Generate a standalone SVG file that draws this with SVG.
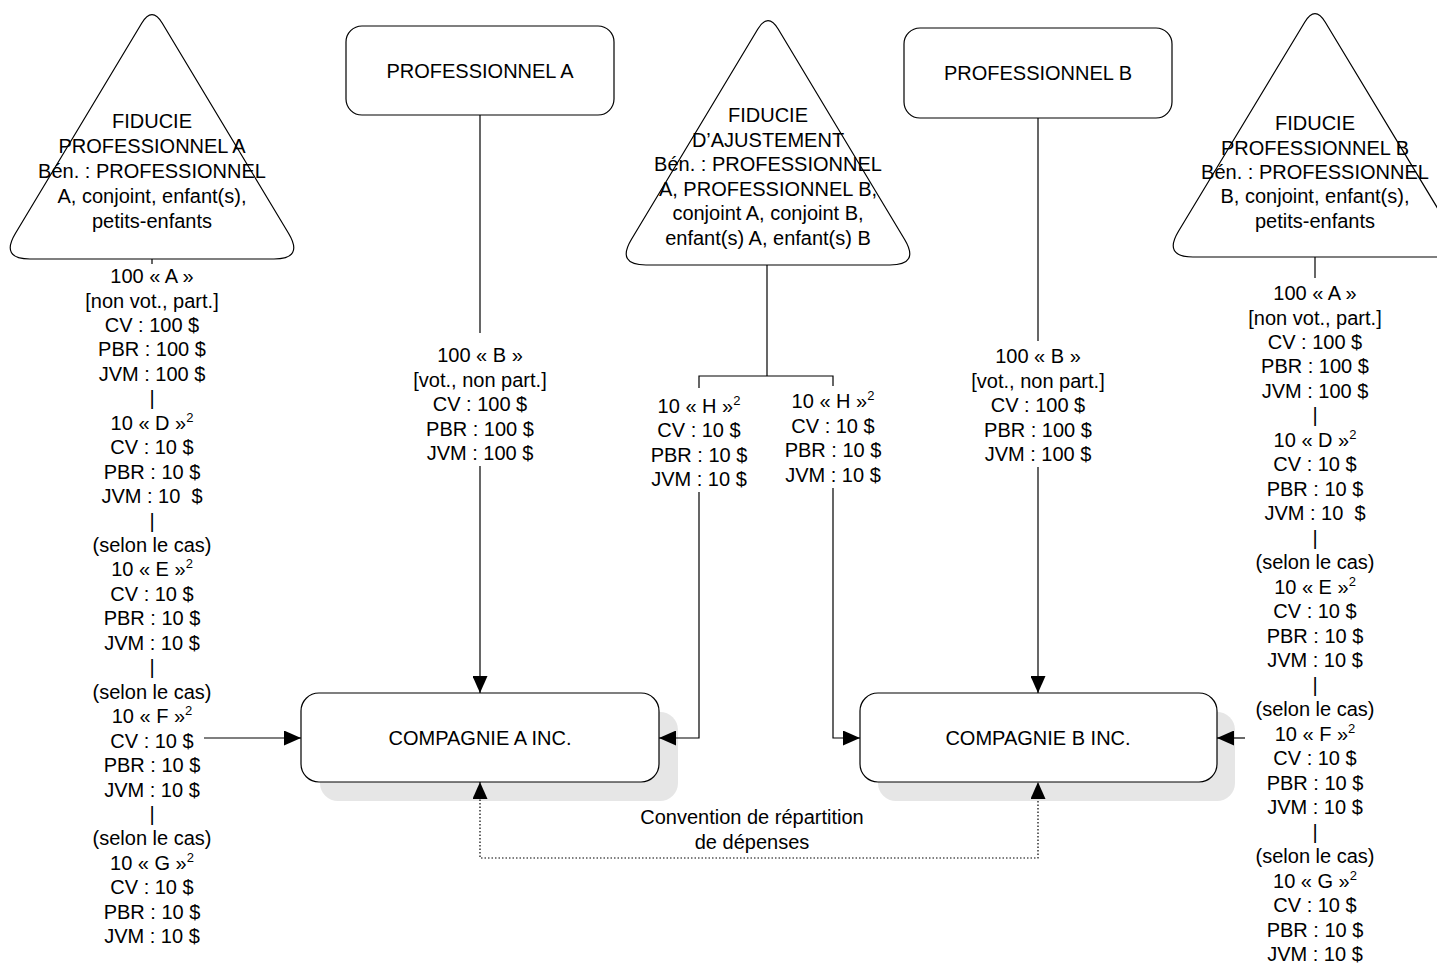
<svg xmlns="http://www.w3.org/2000/svg" width="1437" height="964" viewBox="0 0 1437 964">
<style>
.t{font-family:"Liberation Sans",Arial,sans-serif;font-size:20px;fill:#000;text-anchor:middle}
.box{fill:#fff;stroke:#000;stroke-width:1.2}
.tri{fill:#fff;stroke:#000;stroke-width:1.2}
.sh{fill:#e6e6e6;stroke:none}
.ln{fill:none;stroke:#000;stroke-width:1.2}
.dot{fill:none;stroke:#000;stroke-width:1.2;stroke-dasharray:1.5 2}
</style>
<defs>
<marker id="arr" markerUnits="userSpaceOnUse" markerWidth="17" markerHeight="15" refX="17" refY="7.5" orient="auto-start-reverse" viewBox="0 0 17 15">
<path d="M0,0 L17,7.5 L0,15 z" fill="#000"/>
</marker>
</defs>
<rect width="1437" height="964" fill="#fff"/>

<g id="fiducie-a">
<path class="tri" d="M141.7,23.2 Q152,6 162.3,23.2 L288.5,233.3 Q304,259 274,259 L30,259 Q0,259 15.5,233.3 Z"/>
<text class="t"><tspan x="152" y="128">FIDUCIE</tspan><tspan x="152" y="153">PROFESSIONNEL A</tspan><tspan x="152" y="178">Bén. : PROFESSIONNEL</tspan><tspan x="152" y="203">A, conjoint, enfant(s),</tspan><tspan x="152" y="228">petits-enfants</tspan></text>
</g>

<g id="fiducie-ajustement">
<path class="tri" d="M757.7,29.2 Q768,12 778.3,29.2 L904.5,239.3 Q920,265 890,265 L646,265 Q616,265 631.5,239.3 Z"/>
<text class="t"><tspan x="768" y="122">FIDUCIE</tspan><tspan x="768" y="147">D’AJUSTEMENT</tspan><tspan x="768" y="171">Bén. : PROFESSIONNEL</tspan><tspan x="768" y="196">A, PROFESSIONNEL B,</tspan><tspan x="768" y="220">conjoint A, conjoint B,</tspan><tspan x="768" y="245">enfant(s) A, enfant(s) B</tspan></text>
</g>

<g id="fiducie-b">
<path class="tri" d="M1304.7,22.2 Q1315,5 1325.3,22.2 L1451.5,231.3 Q1467,257 1437,257 L1193,257 Q1163,257 1178.5,231.3 Z"/>
<text class="t"><tspan x="1315" y="130">FIDUCIE</tspan><tspan x="1315" y="155">PROFESSIONNEL B</tspan><tspan x="1315" y="179">Bén. : PROFESSIONNEL</tspan><tspan x="1315" y="203">B, conjoint, enfant(s),</tspan><tspan x="1315" y="228">petits-enfants</tspan></text>
</g>

<g id="professionnel-a">
<rect class="box" x="346" y="26" width="268" height="89" rx="16"/>
<text class="t" x="480" y="78">PROFESSIONNEL A</text>
</g>

<g id="professionnel-b">
<rect class="box" x="904" y="28" width="268" height="90" rx="16"/>
<text class="t" x="1038" y="80">PROFESSIONNEL B</text>
</g>

<g id="compagnie-a">
<rect class="sh" x="320" y="712" width="358" height="89" rx="18"/>
<rect class="box" x="301" y="693" width="358" height="89" rx="18"/>
<text class="t" x="480" y="745">COMPAGNIE A INC.</text>
</g>

<g id="compagnie-b">
<rect class="sh" x="878" y="712" width="357" height="89" rx="18"/>
<rect class="box" x="860" y="693" width="357" height="89" rx="18"/>
<text class="t" x="1038" y="745">COMPAGNIE B INC.</text>
</g>

<g id="connectors">
<line class="ln" x1="480" y1="115" x2="480" y2="333"/>
<line class="ln" x1="480" y1="466" x2="480" y2="693" marker-end="url(#arr)"/>
<line class="ln" x1="1038" y1="118" x2="1038" y2="341"/>
<line class="ln" x1="1038" y1="467" x2="1038" y2="693" marker-end="url(#arr)"/>
<polyline class="ln" points="767,265 767,376"/>
<polyline class="ln" points="699,388 699,376 833,376 833,386"/>
<polyline class="ln" points="699,492 699,738 659,738" marker-end="url(#arr)"/>
<polyline class="ln" points="833,488 833,738 860,738" marker-end="url(#arr)"/>
<line class="ln" x1="152" y1="259" x2="152" y2="264"/>
<line class="ln" x1="204" y1="738" x2="301" y2="738" marker-end="url(#arr)"/>
<line class="ln" x1="1315" y1="257" x2="1315" y2="278"/>
<line class="ln" x1="1245" y1="738" x2="1217" y2="738" marker-end="url(#arr)"/>
<path class="dot" d="M480,782 V858 H1038 V782" marker-start="url(#arr)" marker-end="url(#arr)"/>
</g>

<g id="labels">
<text class="t"><tspan x="480" y="362">100 « B »</tspan><tspan x="480" y="386.5">[vot., non part.]</tspan><tspan x="480" y="411">CV : 100 $</tspan><tspan x="480" y="435.5">PBR : 100 $</tspan><tspan x="480" y="460">JVM : 100 $</tspan></text>
<text class="t"><tspan x="1038" y="363">100 « B »</tspan><tspan x="1038" y="388">[vot., non part.]</tspan><tspan x="1038" y="412">CV : 100 $</tspan><tspan x="1038" y="437">PBR : 100 $</tspan><tspan x="1038" y="461">JVM : 100 $</tspan></text>
<text class="t"><tspan x="699" y="413">10 « H »<tspan font-size="13" dy="-8">2</tspan></tspan><tspan x="699" y="437">CV : 10 $</tspan><tspan x="699" y="462">PBR : 10 $</tspan><tspan x="699" y="486">JVM : 10 $</tspan></text>
<text class="t"><tspan x="833" y="408">10 « H »<tspan font-size="13" dy="-8">2</tspan></tspan><tspan x="833" y="433">CV : 10 $</tspan><tspan x="833" y="457">PBR : 10 $</tspan><tspan x="833" y="482">JVM : 10 $</tspan></text>
<text class="t"><tspan x="752" y="824">Convention de répartition</tspan><tspan x="752" y="849">de dépenses</tspan></text>

<text class="t" xml:space="preserve"><tspan x="152" y="283">100 « A »</tspan><tspan x="152" y="307.5">[non vot., part.]</tspan><tspan x="152" y="331.9">CV : 100 $</tspan><tspan x="152" y="356.4">PBR : 100 $</tspan><tspan x="152" y="380.8">JVM : 100 $</tspan><tspan x="152" y="405.3">|</tspan><tspan x="152" y="429.7">10 « D »<tspan font-size="13" dy="-8">2</tspan></tspan><tspan x="152" y="454.2">CV : 10 $</tspan><tspan x="152" y="478.6">PBR : 10 $</tspan><tspan x="152" y="503.1">JVM : 10  $</tspan><tspan x="152" y="527.5">|</tspan><tspan x="152" y="552">(selon le cas)</tspan><tspan x="152" y="576.4">10 « E »<tspan font-size="13" dy="-8">2</tspan></tspan><tspan x="152" y="600.9">CV : 10 $</tspan><tspan x="152" y="625.3">PBR : 10 $</tspan><tspan x="152" y="649.8">JVM : 10 $</tspan><tspan x="152" y="674.2">|</tspan><tspan x="152" y="698.7">(selon le cas)</tspan><tspan x="152" y="723.1">10 « F »<tspan font-size="13" dy="-8">2</tspan></tspan><tspan x="152" y="747.6">CV : 10 $</tspan><tspan x="152" y="772">PBR : 10 $</tspan><tspan x="152" y="796.5">JVM : 10 $</tspan><tspan x="152" y="820.9">|</tspan><tspan x="152" y="845.4">(selon le cas)</tspan><tspan x="152" y="869.8">10 « G »<tspan font-size="13" dy="-8">2</tspan></tspan><tspan x="152" y="894.3">CV : 10 $</tspan><tspan x="152" y="918.7">PBR : 10 $</tspan><tspan x="152" y="943.2">JVM : 10 $</tspan></text>

<text class="t" xml:space="preserve"><tspan x="1315" y="300">100 « A »</tspan><tspan x="1315" y="324.5">[non vot., part.]</tspan><tspan x="1315" y="349">CV : 100 $</tspan><tspan x="1315" y="373.4">PBR : 100 $</tspan><tspan x="1315" y="397.9">JVM : 100 $</tspan><tspan x="1315" y="422.4">|</tspan><tspan x="1315" y="446.9">10 « D »<tspan font-size="13" dy="-8">2</tspan></tspan><tspan x="1315" y="471.4">CV : 10 $</tspan><tspan x="1315" y="495.8">PBR : 10 $</tspan><tspan x="1315" y="520.3">JVM : 10  $</tspan><tspan x="1315" y="544.8">|</tspan><tspan x="1315" y="569.3">(selon le cas)</tspan><tspan x="1315" y="593.8">10 « E »<tspan font-size="13" dy="-8">2</tspan></tspan><tspan x="1315" y="618.2">CV : 10 $</tspan><tspan x="1315" y="642.7">PBR : 10 $</tspan><tspan x="1315" y="667.2">JVM : 10 $</tspan><tspan x="1315" y="691.7">|</tspan><tspan x="1315" y="716.2">(selon le cas)</tspan><tspan x="1315" y="740.6">10 « F »<tspan font-size="13" dy="-8">2</tspan></tspan><tspan x="1315" y="765.1">CV : 10 $</tspan><tspan x="1315" y="789.6">PBR : 10 $</tspan><tspan x="1315" y="814.1">JVM : 10 $</tspan><tspan x="1315" y="838.6">|</tspan><tspan x="1315" y="863">(selon le cas)</tspan><tspan x="1315" y="887.5">10 « G »<tspan font-size="13" dy="-8">2</tspan></tspan><tspan x="1315" y="912">CV : 10 $</tspan><tspan x="1315" y="936.5">PBR : 10 $</tspan><tspan x="1315" y="961">JVM : 10 $</tspan></text>
</g>
</svg>
